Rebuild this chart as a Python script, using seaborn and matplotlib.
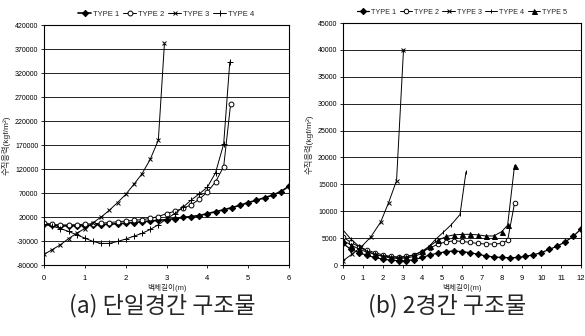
import numpy as np
import pandas as pd
import matplotlib
matplotlib.use("Agg")
import matplotlib.pyplot as plt
import seaborn as sns

# ---------------- data: (a) single span ----------------
a_t1_x = [0, 0.2, 0.4, 0.6, 0.8, 1.0, 1.2, 1.4, 1.6, 1.8, 2.0, 2.2, 2.4, 2.6, 2.8, 3.0,
          3.2, 3.4, 3.6, 3.8, 4.0, 4.2, 4.4, 4.6, 4.8, 5.0, 5.2, 5.4, 5.6, 5.8, 6.0]
a_t1_y = [6000, 2500, 1500, 1500, 1800, 2200, 3000, 4000, 5000, 6000, 7000, 8500, 10000,
          11500, 13000, 14500, 16500, 19000, 21000, 23000, 27000, 31000, 35000, 39500,
          44500, 50000, 55000, 60000, 65500, 73000, 84000]
a_t2_x = [0, 0.2, 0.4, 0.6, 0.8, 1.0, 1.2, 1.4, 1.6, 1.8, 2.0, 2.2, 2.4, 2.6, 2.8, 3.0,
          3.2, 3.4, 3.6, 3.8, 4.0, 4.2, 4.4, 4.57]
a_t2_y = [8000, 4500, 3500, 3500, 4000, 5000, 6000, 7000, 8500, 10000, 11500, 13000, 14500,
          17000, 21000, 27000, 32000, 38000, 45000, 57000, 72000, 93000, 125000, 255000]
a_t3_x = [0, 0.2, 0.4, 0.6, 0.8, 1.0, 1.2, 1.4, 1.6, 1.8, 2.0, 2.2, 2.4, 2.6, 2.8, 2.95]
a_t3_y = [-58000, -48000, -38000, -25000, -14000, -4000, 8000, 20000, 34000, 50000, 67000,
          88000, 110000, 140000, 180000, 382000]
a_t4_x = [0, 0.2, 0.4, 0.6, 0.8, 1.0, 1.2, 1.4, 1.6, 1.8, 2.0, 2.2, 2.4, 2.6, 2.8, 3.0,
          3.2, 3.4, 3.6, 3.8, 4.0, 4.2, 4.4, 4.55]
a_t4_y = [5000, 1000, -4000, -10000, -17000, -24000, -31000, -35000, -35000, -31000, -26000,
          -20000, -14000, -6000, 4000, 16000, 27000, 40000, 55000, 68000, 82000, 112000,
          172000, 343000]

# ---------------- data: (b) two spans ----------------
b_t1_x = [0, 0.4, 0.8, 1.2, 1.6, 2.0, 2.4, 2.8, 3.2, 3.6, 4.0, 4.4, 4.8, 5.2, 5.6, 6.0,
          6.4, 6.8, 7.2, 7.6, 8.0, 8.4, 8.8, 9.2, 9.6, 10.0, 10.4, 10.8, 11.2, 11.6, 12.0]
b_t1_y = [4000, 2900, 2300, 1800, 1400, 1100, 900, 800, 800, 1000, 1400, 1900, 2200, 2500,
          2600, 2500, 2300, 2000, 1700, 1500, 1400, 1350, 1400, 1600, 1900, 2300, 2900,
          3500, 4300, 5300, 6700]
b_t2_x = [0, 0.4, 0.8, 1.2, 1.6, 2.0, 2.4, 2.8, 3.2, 3.6, 4.0, 4.4, 4.8, 5.2, 5.6, 6.0,
          6.4, 6.8, 7.2, 7.6, 8.0, 8.3, 8.65]
b_t2_y = [5200, 4200, 3400, 2800, 2300, 1900, 1600, 1500, 1600, 1900, 2500, 3200, 3900,
          4300, 4500, 4400, 4200, 4000, 3900, 3900, 4000, 4600, 11500]
b_t3_x = [0, 0.45, 0.9, 1.4, 1.9, 2.3, 2.7, 3.05]
b_t3_y = [800, 2000, 3300, 5200, 8000, 11600, 15700, 40000]
b_t4_x = [0, 0.4, 0.8, 1.2, 1.6, 2.0, 2.4, 2.8, 3.2, 3.6, 4.0, 4.3, 4.65, 5.06, 5.46, 5.9, 6.2]
b_t4_y = [6500, 4800, 3500, 2600, 2000, 1600, 1300, 1200, 1300, 1600, 2200, 3300, 4700,
          6100, 7500, 9400, 17300]
b_t5_x = [0, 0.4, 0.8, 1.2, 1.6, 2.0, 2.4, 2.8, 3.2, 3.6, 4.0, 4.4, 4.8, 5.2, 5.6, 6.0,
          6.4, 6.8, 7.2, 7.6, 8.0, 8.3, 8.65]
b_t5_y = [4600, 3700, 3000, 2400, 2000, 1700, 1500, 1400, 1500, 1900, 2600, 3600, 4600,
          5300, 5600, 5700, 5700, 5600, 5400, 5400, 6200, 7400, 18500]

a_yticks = list(range(-80000, 420001, 50000))
b_yticks = list(range(0, 45001, 5000))
a_xticks = list(range(0, 7))
b_xticks = list(range(0, 13))

ylabel = "수직응력(kgf/m²)"
xlabel = "벽체길이(m)"
cap_a = "(a) 단일경간 구조물"
cap_b = "(b) 2경간 구조물"

sns.set_theme(style="white")
plt.rcParams['font.family'] = ['Liberation Sans Narrow', 'Liberation Sans', 'Noto Sans CJK KR', 'DejaVu Sans']

fig = plt.figure(figsize=(5.85, 3.36), dpi=100)
axA = fig.add_axes([44/585, 71/336, 245/585, 240/336])
axB = fig.add_axes([343/585, 71/336, 238/585, 242/336])

def draw(ax, x, y, name, marker, ms, mfc, lw=0.7, mew=0.7):
    df = pd.DataFrame({"x": x, "y": y})
    sns.lineplot(data=df, x="x", y="y", ax=ax, color="black", linewidth=lw,
                 marker=marker, markersize=ms, markerfacecolor=mfc,
                 markeredgecolor="black", markeredgewidth=mew, label=name,
                 estimator=None, sort=False)

draw(axA, a_t1_x, a_t1_y, "TYPE 1", "D", 3.2, "black", lw=1.2)
draw(axA, a_t2_x, a_t2_y, "TYPE 2", "o", 3.5, "white")
draw(axA, a_t3_x, a_t3_y, "TYPE 3", "x", 3.5, "black")
draw(axA, a_t4_x, a_t4_y, "TYPE 4", "+", 4.5, "black")

draw(axB, b_t1_x, b_t1_y, "TYPE 1", "D", 3.2, "black", lw=0.9)
draw(axB, b_t2_x, b_t2_y, "TYPE 2", "o", 3.3, "white")
draw(axB, b_t3_x, b_t3_y, "TYPE 3", "x", 3.0, "black")
draw(axB, b_t4_x, b_t4_y, "TYPE 4", "|", 3.0, "black")
draw(axB, b_t5_x, b_t5_y, "TYPE 5", "^", 3.6, "black")

for ax, xt, yt, xlim, ylim, lfs in [(axA, a_xticks, a_yticks, (0, 6), (-80000, 420000), 5.5),
                                    (axB, b_xticks, b_yticks, (0, 12), (0, 45000), 5.2)]:
    ax.set_xlim(*xlim)
    ax.set_ylim(*ylim)
    ax.set_xticks(xt)
    ax.set_yticks(yt)
    ax.set_xticklabels([str(v) for v in xt], fontsize=5.5)
    ax.set_yticklabels([str(v) for v in yt], fontsize=5)
    ax.yaxis.grid(True, color="#222222", linewidth=0.7)
    ax.xaxis.grid(False)
    for s in ax.spines.values():
        s.set_color("black")
        s.set_linewidth(0.8)
    ax.tick_params(axis="both", direction="out", length=2, width=0.6, pad=2,
                   colors="black", bottom=True, left=True)
    ax.tick_params(axis="x", pad=5)
    ax.set_xlabel(xlabel, fontsize=5.5, labelpad=2)
    ax.set_ylabel(ylabel, fontsize=6, labelpad=3)
    leg = ax.legend(loc="lower center", bbox_to_anchor=(0.5, 1.02), ncol=5,
                    frameon=False, fontsize=lfs, handlelength=1.7, handletextpad=0.25,
                    columnspacing=0.5, borderaxespad=0.2, borderpad=0.1)

fig.text(162/585, 1 - 306/336, cap_a, ha="center", va="center", fontsize=16.5,
         family=['Noto Sans CJK KR', 'DejaVu Sans'])
fig.text(447/585, 1 - 306/336, cap_b, ha="center", va="center", fontsize=16.5,
         family=['Noto Sans CJK KR', 'DejaVu Sans'])

fig.savefig("out.png", dpi=100, facecolor="white")
